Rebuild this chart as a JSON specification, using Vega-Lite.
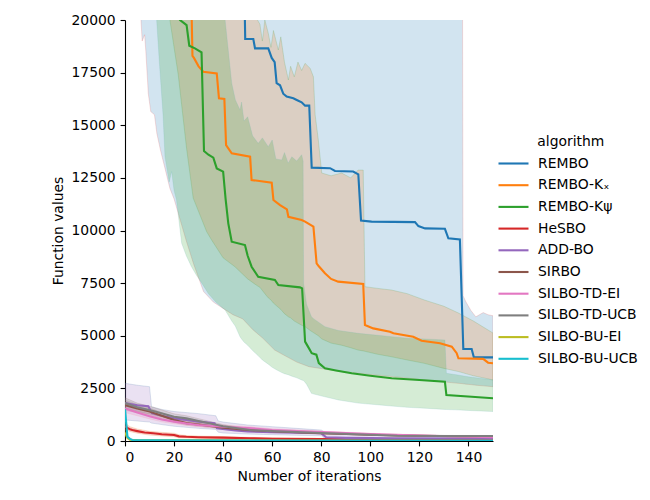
{
  "$schema": "https://vega.github.io/schema/vega-lite/v6.json",
  "width": 368,
  "height": 421,
  "autosize": "none",
  "padding": {"left": 125, "top": 20, "right": 157, "bottom": 59},
  "background": "white",
  "config": {
    "view": {"stroke": null},
    "font": "DejaVu Sans",
    "axis": {
      "grid": false,
      "zindex": 1,
      "labelFont": "DejaVu Sans",
      "labelFontSize": 13.9,
      "labelColor": "black",
      "titleFont": "DejaVu Sans",
      "titleFontSize": 13.9,
      "titleFontWeight": "normal",
      "titleColor": "black",
      "domainColor": "black",
      "domainWidth": 1.1,
      "tickColor": "black",
      "tickWidth": 1.1,
      "tickSize": 4.9,
      "labelPadding": 4.9
    },
    "legend": {
      "labelFont": "DejaVu Sans",
      "labelFontSize": 13.9,
      "labelColor": "black",
      "titleFont": "DejaVu Sans",
      "titleFontSize": 13.9,
      "titleFontWeight": "normal",
      "titleColor": "black"
    }
  },
  "datasets": {
    "lines": [
      {"algorithm": "REMBO", "iteration": 0, "value": 60000},
      {"algorithm": "REMBO", "iteration": 48, "value": 26000},
      {"algorithm": "REMBO", "iteration": 49, "value": 19100},
      {"algorithm": "REMBO", "iteration": 52.3, "value": 19100},
      {"algorithm": "REMBO", "iteration": 53, "value": 18650},
      {"algorithm": "REMBO", "iteration": 58.4, "value": 18650},
      {"algorithm": "REMBO", "iteration": 59.8, "value": 18200},
      {"algorithm": "REMBO", "iteration": 61, "value": 18000},
      {"algorithm": "REMBO", "iteration": 61.8, "value": 17000},
      {"algorithm": "REMBO", "iteration": 63.2, "value": 16900},
      {"algorithm": "REMBO", "iteration": 64.5, "value": 16500},
      {"algorithm": "REMBO", "iteration": 65.9, "value": 16360},
      {"algorithm": "REMBO", "iteration": 68.6, "value": 16280},
      {"algorithm": "REMBO", "iteration": 70, "value": 16200},
      {"algorithm": "REMBO", "iteration": 72, "value": 16090},
      {"algorithm": "REMBO", "iteration": 73.4, "value": 15930},
      {"algorithm": "REMBO", "iteration": 75.1, "value": 15930},
      {"algorithm": "REMBO", "iteration": 76.1, "value": 12985},
      {"algorithm": "REMBO", "iteration": 83.6, "value": 12960},
      {"algorithm": "REMBO", "iteration": 85.6, "value": 12830},
      {"algorithm": "REMBO", "iteration": 93, "value": 12800},
      {"algorithm": "REMBO", "iteration": 95.1, "value": 12670},
      {"algorithm": "REMBO", "iteration": 96.2, "value": 10470},
      {"algorithm": "REMBO", "iteration": 100.5, "value": 10420},
      {"algorithm": "REMBO", "iteration": 118.2, "value": 10400},
      {"algorithm": "REMBO", "iteration": 119.6, "value": 10210},
      {"algorithm": "REMBO", "iteration": 122.3, "value": 10100},
      {"algorithm": "REMBO", "iteration": 130.4, "value": 10080},
      {"algorithm": "REMBO", "iteration": 131.8, "value": 9630},
      {"algorithm": "REMBO", "iteration": 136.5, "value": 9580},
      {"algorithm": "REMBO", "iteration": 137.9, "value": 4370},
      {"algorithm": "REMBO", "iteration": 141.3, "value": 4370},
      {"algorithm": "REMBO", "iteration": 142.2, "value": 3975},
      {"algorithm": "REMBO", "iteration": 150, "value": 3975},

      {"algorithm": "REMBO-Kₓ", "iteration": 0, "value": 60000},
      {"algorithm": "REMBO-Kₓ", "iteration": 26.5, "value": 24000},
      {"algorithm": "REMBO-Kₓ", "iteration": 27.5, "value": 18300},
      {"algorithm": "REMBO-Kₓ", "iteration": 28.1, "value": 18200},
      {"algorithm": "REMBO-Kₓ", "iteration": 30, "value": 17800},
      {"algorithm": "REMBO-Kₓ", "iteration": 31.9, "value": 17540},
      {"algorithm": "REMBO-Kₓ", "iteration": 37.4, "value": 17460},
      {"algorithm": "REMBO-Kₓ", "iteration": 38.3, "value": 16280},
      {"algorithm": "REMBO-Kₓ", "iteration": 40.5, "value": 16250},
      {"algorithm": "REMBO-Kₓ", "iteration": 41.2, "value": 14060},
      {"algorithm": "REMBO-Kₓ", "iteration": 43.5, "value": 13670},
      {"algorithm": "REMBO-Kₓ", "iteration": 51, "value": 13510},
      {"algorithm": "REMBO-Kₓ", "iteration": 51.6, "value": 12400},
      {"algorithm": "REMBO-Kₓ", "iteration": 59.8, "value": 12270},
      {"algorithm": "REMBO-Kₓ", "iteration": 60.5, "value": 11450},
      {"algorithm": "REMBO-Kₓ", "iteration": 63.2, "value": 11210},
      {"algorithm": "REMBO-Kₓ", "iteration": 66, "value": 11000},
      {"algorithm": "REMBO-Kₓ", "iteration": 66.6, "value": 10650},
      {"algorithm": "REMBO-Kₓ", "iteration": 72, "value": 10500},
      {"algorithm": "REMBO-Kₓ", "iteration": 73.4, "value": 10420},
      {"algorithm": "REMBO-Kₓ", "iteration": 76.8, "value": 10180},
      {"algorithm": "REMBO-Kₓ", "iteration": 78.1, "value": 8440},
      {"algorithm": "REMBO-Kₓ", "iteration": 79, "value": 8300},
      {"algorithm": "REMBO-Kₓ", "iteration": 81.5, "value": 7970},
      {"algorithm": "REMBO-Kₓ", "iteration": 84, "value": 7700},
      {"algorithm": "REMBO-Kₓ", "iteration": 86.9, "value": 7570},
      {"algorithm": "REMBO-Kₓ", "iteration": 97.1, "value": 7460},
      {"algorithm": "REMBO-Kₓ", "iteration": 97.8, "value": 5510},
      {"algorithm": "REMBO-Kₓ", "iteration": 101.2, "value": 5350},
      {"algorithm": "REMBO-Kₓ", "iteration": 108, "value": 5190},
      {"algorithm": "REMBO-Kₓ", "iteration": 109.4, "value": 5115},
      {"algorithm": "REMBO-Kₓ", "iteration": 117.5, "value": 4955},
      {"algorithm": "REMBO-Kₓ", "iteration": 120.9, "value": 4765},
      {"algorithm": "REMBO-Kₓ", "iteration": 128.4, "value": 4640},
      {"algorithm": "REMBO-Kₓ", "iteration": 133.2, "value": 4480},
      {"algorithm": "REMBO-Kₓ", "iteration": 135.2, "value": 4170},
      {"algorithm": "REMBO-Kₓ", "iteration": 135.9, "value": 3930},
      {"algorithm": "REMBO-Kₓ", "iteration": 146, "value": 3900},
      {"algorithm": "REMBO-Kₓ", "iteration": 148, "value": 3720},
      {"algorithm": "REMBO-Kₓ", "iteration": 150, "value": 3690},

      {"algorithm": "REMBO-Kψ", "iteration": 0, "value": 60000},
      {"algorithm": "REMBO-Kψ", "iteration": 21.5, "value": 25000},
      {"algorithm": "REMBO-Kψ", "iteration": 22.4, "value": 20000},
      {"algorithm": "REMBO-Kψ", "iteration": 25.1, "value": 19760},
      {"algorithm": "REMBO-Kψ", "iteration": 26.2, "value": 18780},
      {"algorithm": "REMBO-Kψ", "iteration": 28.5, "value": 18650},
      {"algorithm": "REMBO-Kψ", "iteration": 31.2, "value": 18460},
      {"algorithm": "REMBO-Kψ", "iteration": 32.2, "value": 13780},
      {"algorithm": "REMBO-Kψ", "iteration": 34, "value": 13600},
      {"algorithm": "REMBO-Kψ", "iteration": 36, "value": 13460},
      {"algorithm": "REMBO-Kψ", "iteration": 37.4, "value": 12950},
      {"algorithm": "REMBO-Kψ", "iteration": 40, "value": 12800},
      {"algorithm": "REMBO-Kψ", "iteration": 41, "value": 11500},
      {"algorithm": "REMBO-Kψ", "iteration": 42.1, "value": 10340},
      {"algorithm": "REMBO-Kψ", "iteration": 43.5, "value": 9470},
      {"algorithm": "REMBO-Kψ", "iteration": 48.9, "value": 9310},
      {"algorithm": "REMBO-Kψ", "iteration": 50, "value": 8800},
      {"algorithm": "REMBO-Kψ", "iteration": 51.6, "value": 8280},
      {"algorithm": "REMBO-Kψ", "iteration": 54.3, "value": 7800},
      {"algorithm": "REMBO-Kψ", "iteration": 61.1, "value": 7650},
      {"algorithm": "REMBO-Kψ", "iteration": 62.5, "value": 7410},
      {"algorithm": "REMBO-Kψ", "iteration": 71.3, "value": 7300},
      {"algorithm": "REMBO-Kψ", "iteration": 72.2, "value": 7250},
      {"algorithm": "REMBO-Kψ", "iteration": 73.4, "value": 4720},
      {"algorithm": "REMBO-Kψ", "iteration": 75, "value": 4400},
      {"algorithm": "REMBO-Kψ", "iteration": 76.1, "value": 4170},
      {"algorithm": "REMBO-Kψ", "iteration": 78, "value": 4100},
      {"algorithm": "REMBO-Kψ", "iteration": 79, "value": 3700},
      {"algorithm": "REMBO-Kψ", "iteration": 81.5, "value": 3450},
      {"algorithm": "REMBO-Kψ", "iteration": 86, "value": 3350},
      {"algorithm": "REMBO-Kψ", "iteration": 92.4, "value": 3215},
      {"algorithm": "REMBO-Kψ", "iteration": 100, "value": 3100},
      {"algorithm": "REMBO-Kψ", "iteration": 108.7, "value": 2980},
      {"algorithm": "REMBO-Kψ", "iteration": 120, "value": 2900},
      {"algorithm": "REMBO-Kψ", "iteration": 130.4, "value": 2820},
      {"algorithm": "REMBO-Kψ", "iteration": 131, "value": 2185},
      {"algorithm": "REMBO-Kψ", "iteration": 141.3, "value": 2100},
      {"algorithm": "REMBO-Kψ", "iteration": 150, "value": 2030},

      {"algorithm": "HeSBO", "iteration": 0, "value": 700},
      {"algorithm": "HeSBO", "iteration": 1, "value": 620},
      {"algorithm": "HeSBO", "iteration": 2, "value": 560},
      {"algorithm": "HeSBO", "iteration": 3, "value": 520},
      {"algorithm": "HeSBO", "iteration": 5, "value": 470},
      {"algorithm": "HeSBO", "iteration": 8, "value": 400},
      {"algorithm": "HeSBO", "iteration": 11.5, "value": 365},
      {"algorithm": "HeSBO", "iteration": 15, "value": 320},
      {"algorithm": "HeSBO", "iteration": 20, "value": 285},
      {"algorithm": "HeSBO", "iteration": 22, "value": 220},
      {"algorithm": "HeSBO", "iteration": 25, "value": 200},
      {"algorithm": "HeSBO", "iteration": 30, "value": 180},
      {"algorithm": "HeSBO", "iteration": 40, "value": 160},
      {"algorithm": "HeSBO", "iteration": 51, "value": 130},
      {"algorithm": "HeSBO", "iteration": 60, "value": 110},
      {"algorithm": "HeSBO", "iteration": 80, "value": 90},
      {"algorithm": "HeSBO", "iteration": 100, "value": 75},
      {"algorithm": "HeSBO", "iteration": 120, "value": 65},
      {"algorithm": "HeSBO", "iteration": 150, "value": 50},

      {"algorithm": "ADD-BO", "iteration": 0, "value": 1800},
      {"algorithm": "ADD-BO", "iteration": 5, "value": 1700},
      {"algorithm": "ADD-BO", "iteration": 9.5, "value": 1650},
      {"algorithm": "ADD-BO", "iteration": 10.5, "value": 1430},
      {"algorithm": "ADD-BO", "iteration": 11, "value": 1320},
      {"algorithm": "ADD-BO", "iteration": 15, "value": 1200},
      {"algorithm": "ADD-BO", "iteration": 20, "value": 1075},
      {"algorithm": "ADD-BO", "iteration": 25, "value": 1000},
      {"algorithm": "ADD-BO", "iteration": 30, "value": 920},
      {"algorithm": "ADD-BO", "iteration": 36.5, "value": 840},
      {"algorithm": "ADD-BO", "iteration": 37.5, "value": 600},
      {"algorithm": "ADD-BO", "iteration": 45, "value": 500},
      {"algorithm": "ADD-BO", "iteration": 50, "value": 450},
      {"algorithm": "ADD-BO", "iteration": 60, "value": 420},
      {"algorithm": "ADD-BO", "iteration": 70, "value": 390},
      {"algorithm": "ADD-BO", "iteration": 80, "value": 365},
      {"algorithm": "ADD-BO", "iteration": 82, "value": 175},
      {"algorithm": "ADD-BO", "iteration": 90, "value": 150},
      {"algorithm": "ADD-BO", "iteration": 110, "value": 125},
      {"algorithm": "ADD-BO", "iteration": 150, "value": 115},

      {"algorithm": "SIRBO", "iteration": 0, "value": 1700},
      {"algorithm": "SIRBO", "iteration": 5, "value": 1550},
      {"algorithm": "SIRBO", "iteration": 10, "value": 1400},
      {"algorithm": "SIRBO", "iteration": 15, "value": 1200},
      {"algorithm": "SIRBO", "iteration": 20, "value": 1000},
      {"algorithm": "SIRBO", "iteration": 25, "value": 850},
      {"algorithm": "SIRBO", "iteration": 30, "value": 780},
      {"algorithm": "SIRBO", "iteration": 40, "value": 630},
      {"algorithm": "SIRBO", "iteration": 50, "value": 530},
      {"algorithm": "SIRBO", "iteration": 60, "value": 460},
      {"algorithm": "SIRBO", "iteration": 80, "value": 370},
      {"algorithm": "SIRBO", "iteration": 100, "value": 300},
      {"algorithm": "SIRBO", "iteration": 120, "value": 250},
      {"algorithm": "SIRBO", "iteration": 150, "value": 200},

      {"algorithm": "SILBO-TD-EI", "iteration": 0, "value": 1550},
      {"algorithm": "SILBO-TD-EI", "iteration": 5, "value": 1350},
      {"algorithm": "SILBO-TD-EI", "iteration": 10, "value": 1180},
      {"algorithm": "SILBO-TD-EI", "iteration": 15, "value": 1020},
      {"algorithm": "SILBO-TD-EI", "iteration": 20, "value": 920},
      {"algorithm": "SILBO-TD-EI", "iteration": 25, "value": 830},
      {"algorithm": "SILBO-TD-EI", "iteration": 30, "value": 760},
      {"algorithm": "SILBO-TD-EI", "iteration": 40, "value": 680},
      {"algorithm": "SILBO-TD-EI", "iteration": 50, "value": 620},
      {"algorithm": "SILBO-TD-EI", "iteration": 60, "value": 520},
      {"algorithm": "SILBO-TD-EI", "iteration": 80, "value": 420},
      {"algorithm": "SILBO-TD-EI", "iteration": 100, "value": 330},
      {"algorithm": "SILBO-TD-EI", "iteration": 120, "value": 260},
      {"algorithm": "SILBO-TD-EI", "iteration": 150, "value": 175},

      {"algorithm": "SILBO-TD-UCB", "iteration": 0, "value": 1800},
      {"algorithm": "SILBO-TD-UCB", "iteration": 5, "value": 1600},
      {"algorithm": "SILBO-TD-UCB", "iteration": 11.5, "value": 1425},
      {"algorithm": "SILBO-TD-UCB", "iteration": 20, "value": 1155},
      {"algorithm": "SILBO-TD-UCB", "iteration": 25, "value": 1075},
      {"algorithm": "SILBO-TD-UCB", "iteration": 30, "value": 950},
      {"algorithm": "SILBO-TD-UCB", "iteration": 40, "value": 700},
      {"algorithm": "SILBO-TD-UCB", "iteration": 51, "value": 520},
      {"algorithm": "SILBO-TD-UCB", "iteration": 60, "value": 470},
      {"algorithm": "SILBO-TD-UCB", "iteration": 80, "value": 380},
      {"algorithm": "SILBO-TD-UCB", "iteration": 100, "value": 300},
      {"algorithm": "SILBO-TD-UCB", "iteration": 111, "value": 250},
      {"algorithm": "SILBO-TD-UCB", "iteration": 130, "value": 240},
      {"algorithm": "SILBO-TD-UCB", "iteration": 150, "value": 235},

      {"algorithm": "SILBO-BU-EI", "iteration": 0, "value": 400},
      {"algorithm": "SILBO-BU-EI", "iteration": 1, "value": 150},
      {"algorithm": "SILBO-BU-EI", "iteration": 2, "value": 60},
      {"algorithm": "SILBO-BU-EI", "iteration": 5, "value": 40},
      {"algorithm": "SILBO-BU-EI", "iteration": 50, "value": 25},
      {"algorithm": "SILBO-BU-EI", "iteration": 150, "value": 15},

      {"algorithm": "SILBO-BU-UCB", "iteration": 0, "value": 1500},
      {"algorithm": "SILBO-BU-UCB", "iteration": 1, "value": 200},
      {"algorithm": "SILBO-BU-UCB", "iteration": 2, "value": 100},
      {"algorithm": "SILBO-BU-UCB", "iteration": 3, "value": 50},
      {"algorithm": "SILBO-BU-UCB", "iteration": 10, "value": 35},
      {"algorithm": "SILBO-BU-UCB", "iteration": 50, "value": 25},
      {"algorithm": "SILBO-BU-UCB", "iteration": 150, "value": 15}
    ],
    "bands": [
      {"algorithm": "REMBO", "iteration": 0, "lower": 60000, "upper": 60000},
      {"algorithm": "REMBO", "iteration": 5, "lower": 26000, "upper": 60000},
      {"algorithm": "REMBO", "iteration": 6.5, "lower": 20000, "upper": 60000},
      {"algorithm": "REMBO", "iteration": 7, "lower": 19000, "upper": 60000},
      {"algorithm": "REMBO", "iteration": 8, "lower": 19300, "upper": 60000},
      {"algorithm": "REMBO", "iteration": 8.5, "lower": 18500, "upper": 60000},
      {"algorithm": "REMBO", "iteration": 9.5, "lower": 16500, "upper": 60000},
      {"algorithm": "REMBO", "iteration": 10.5, "lower": 15650, "upper": 60000},
      {"algorithm": "REMBO", "iteration": 12, "lower": 15500, "upper": 60000},
      {"algorithm": "REMBO", "iteration": 13, "lower": 14600, "upper": 60000},
      {"algorithm": "REMBO", "iteration": 14.5, "lower": 13800, "upper": 60000},
      {"algorithm": "REMBO", "iteration": 16.3, "lower": 12950, "upper": 60000},
      {"algorithm": "REMBO", "iteration": 18.3, "lower": 12000, "upper": 60000},
      {"algorithm": "REMBO", "iteration": 20, "lower": 11500, "upper": 60000},
      {"algorithm": "REMBO", "iteration": 22, "lower": 10700, "upper": 60000},
      {"algorithm": "REMBO", "iteration": 25, "lower": 9500, "upper": 60000},
      {"algorithm": "REMBO", "iteration": 28, "lower": 8400, "upper": 60000},
      {"algorithm": "REMBO", "iteration": 32, "lower": 7100, "upper": 60000},
      {"algorithm": "REMBO", "iteration": 36, "lower": 6600, "upper": 60000},
      {"algorithm": "REMBO", "iteration": 40, "lower": 6300, "upper": 60000},
      {"algorithm": "REMBO", "iteration": 44, "lower": 6000, "upper": 60000},
      {"algorithm": "REMBO", "iteration": 48, "lower": 5800, "upper": 60000},
      {"algorithm": "REMBO", "iteration": 52, "lower": 5300, "upper": 60000},
      {"algorithm": "REMBO", "iteration": 56, "lower": 4900, "upper": 60000},
      {"algorithm": "REMBO", "iteration": 61, "lower": 4320, "upper": 60000},
      {"algorithm": "REMBO", "iteration": 66, "lower": 4000, "upper": 60000},
      {"algorithm": "REMBO", "iteration": 70, "lower": 3750, "upper": 60000},
      {"algorithm": "REMBO", "iteration": 75, "lower": 3530, "upper": 60000},
      {"algorithm": "REMBO", "iteration": 85, "lower": 3350, "upper": 60000},
      {"algorithm": "REMBO", "iteration": 95, "lower": 3215, "upper": 60000},
      {"algorithm": "REMBO", "iteration": 110, "lower": 3050, "upper": 60000},
      {"algorithm": "REMBO", "iteration": 122, "lower": 2900, "upper": 60000},
      {"algorithm": "REMBO", "iteration": 135, "lower": 2750, "upper": 60000},
      {"algorithm": "REMBO", "iteration": 137, "lower": 2730, "upper": 60000},
      {"algorithm": "REMBO", "iteration": 137.8, "lower": 2720, "upper": 6900},
      {"algorithm": "REMBO", "iteration": 139, "lower": 2700, "upper": 6600},
      {"algorithm": "REMBO", "iteration": 141, "lower": 2680, "upper": 6200},
      {"algorithm": "REMBO", "iteration": 143, "lower": 2650, "upper": 5900},
      {"algorithm": "REMBO", "iteration": 146, "lower": 2620, "upper": 6100},
      {"algorithm": "REMBO", "iteration": 148, "lower": 2600, "upper": 6000},
      {"algorithm": "REMBO", "iteration": 150, "lower": 2580, "upper": 5950},

      {"algorithm": "REMBO-Kₓ", "iteration": 0, "lower": 60000, "upper": 60000},
      {"algorithm": "REMBO-Kₓ", "iteration": 17.5, "lower": 21000, "upper": 60000},
      {"algorithm": "REMBO-Kₓ", "iteration": 18.3, "lower": 20000, "upper": 60000},
      {"algorithm": "REMBO-Kₓ", "iteration": 21.7, "lower": 17400, "upper": 60000},
      {"algorithm": "REMBO-Kₓ", "iteration": 25.1, "lower": 13900, "upper": 60000},
      {"algorithm": "REMBO-Kₓ", "iteration": 27.8, "lower": 11540, "upper": 60000},
      {"algorithm": "REMBO-Kₓ", "iteration": 33.3, "lower": 9940, "upper": 60000},
      {"algorithm": "REMBO-Kₓ", "iteration": 35.3, "lower": 9550, "upper": 60000},
      {"algorithm": "REMBO-Kₓ", "iteration": 40, "lower": 8700, "upper": 60000},
      {"algorithm": "REMBO-Kₓ", "iteration": 44.8, "lower": 8280, "upper": 60000},
      {"algorithm": "REMBO-Kₓ", "iteration": 50, "lower": 7700, "upper": 60000},
      {"algorithm": "REMBO-Kₓ", "iteration": 53, "lower": 7450, "upper": 40000},
      {"algorithm": "REMBO-Kₓ", "iteration": 54, "lower": 7370, "upper": 20000},
      {"algorithm": "REMBO-Kₓ", "iteration": 55, "lower": 7300, "upper": 19800},
      {"algorithm": "REMBO-Kₓ", "iteration": 56, "lower": 7150, "upper": 19000},
      {"algorithm": "REMBO-Kₓ", "iteration": 57, "lower": 7000, "upper": 20000},
      {"algorithm": "REMBO-Kₓ", "iteration": 58.4, "lower": 6800, "upper": 19370},
      {"algorithm": "REMBO-Kₓ", "iteration": 59.5, "lower": 6700, "upper": 18700},
      {"algorithm": "REMBO-Kₓ", "iteration": 60.5, "lower": 6550, "upper": 19500},
      {"algorithm": "REMBO-Kₓ", "iteration": 62.5, "lower": 6350, "upper": 18575},
      {"algorithm": "REMBO-Kₓ", "iteration": 63.5, "lower": 6250, "upper": 19200},
      {"algorithm": "REMBO-Kₓ", "iteration": 65, "lower": 6050, "upper": 18000},
      {"algorithm": "REMBO-Kₓ", "iteration": 66.6, "lower": 5900, "upper": 17150},
      {"algorithm": "REMBO-Kₓ", "iteration": 67.5, "lower": 5850, "upper": 17800},
      {"algorithm": "REMBO-Kₓ", "iteration": 69, "lower": 5700, "upper": 17300},
      {"algorithm": "REMBO-Kₓ", "iteration": 70.5, "lower": 5600, "upper": 18000},
      {"algorithm": "REMBO-Kₓ", "iteration": 72, "lower": 5500, "upper": 17600},
      {"algorithm": "REMBO-Kₓ", "iteration": 73.4, "lower": 5430, "upper": 17940},
      {"algorithm": "REMBO-Kₓ", "iteration": 75.5, "lower": 5250, "upper": 17700},
      {"algorithm": "REMBO-Kₓ", "iteration": 76.8, "lower": 5150, "upper": 17300},
      {"algorithm": "REMBO-Kₓ", "iteration": 77.5, "lower": 5100, "upper": 15500},
      {"algorithm": "REMBO-Kₓ", "iteration": 78.8, "lower": 5000, "upper": 14300},
      {"algorithm": "REMBO-Kₓ", "iteration": 80.2, "lower": 4850, "upper": 12730},
      {"algorithm": "REMBO-Kₓ", "iteration": 84, "lower": 4650, "upper": 12600},
      {"algorithm": "REMBO-Kₓ", "iteration": 88.3, "lower": 4550, "upper": 12730},
      {"algorithm": "REMBO-Kₓ", "iteration": 92, "lower": 4430, "upper": 12500},
      {"algorithm": "REMBO-Kₓ", "iteration": 95, "lower": 4320, "upper": 12870},
      {"algorithm": "REMBO-Kₓ", "iteration": 97.1, "lower": 4280, "upper": 12870},
      {"algorithm": "REMBO-Kₓ", "iteration": 97.8, "lower": 4260, "upper": 7330},
      {"algorithm": "REMBO-Kₓ", "iteration": 103, "lower": 4120, "upper": 7250},
      {"algorithm": "REMBO-Kₓ", "iteration": 108.7, "lower": 4000, "upper": 7170},
      {"algorithm": "REMBO-Kₓ", "iteration": 115, "lower": 3850, "upper": 7000},
      {"algorithm": "REMBO-Kₓ", "iteration": 122, "lower": 3690, "upper": 6700},
      {"algorithm": "REMBO-Kₓ", "iteration": 130, "lower": 3450, "upper": 6400},
      {"algorithm": "REMBO-Kₓ", "iteration": 135.9, "lower": 3300, "upper": 6080},
      {"algorithm": "REMBO-Kₓ", "iteration": 142, "lower": 3100, "upper": 5700},
      {"algorithm": "REMBO-Kₓ", "iteration": 150, "lower": 2900, "upper": 5130},

      {"algorithm": "REMBO-Kψ", "iteration": 0, "lower": 60000, "upper": 60000},
      {"algorithm": "REMBO-Kψ", "iteration": 12, "lower": 24000, "upper": 60000},
      {"algorithm": "REMBO-Kψ", "iteration": 12.9, "lower": 20000, "upper": 60000},
      {"algorithm": "REMBO-Kψ", "iteration": 14, "lower": 18000, "upper": 60000},
      {"algorithm": "REMBO-Kψ", "iteration": 15.5, "lower": 15500, "upper": 60000},
      {"algorithm": "REMBO-Kψ", "iteration": 16.3, "lower": 13500, "upper": 60000},
      {"algorithm": "REMBO-Kψ", "iteration": 18, "lower": 12300, "upper": 60000},
      {"algorithm": "REMBO-Kψ", "iteration": 19, "lower": 12800, "upper": 60000},
      {"algorithm": "REMBO-Kψ", "iteration": 20, "lower": 11900, "upper": 60000},
      {"algorithm": "REMBO-Kψ", "iteration": 21, "lower": 11450, "upper": 60000},
      {"algorithm": "REMBO-Kψ", "iteration": 23.1, "lower": 9390, "upper": 60000},
      {"algorithm": "REMBO-Kψ", "iteration": 25, "lower": 8800, "upper": 60000},
      {"algorithm": "REMBO-Kψ", "iteration": 27, "lower": 8300, "upper": 60000},
      {"algorithm": "REMBO-Kψ", "iteration": 29, "lower": 7900, "upper": 60000},
      {"algorithm": "REMBO-Kψ", "iteration": 31.3, "lower": 7500, "upper": 60000},
      {"algorithm": "REMBO-Kψ", "iteration": 34, "lower": 7000, "upper": 60000},
      {"algorithm": "REMBO-Kψ", "iteration": 37, "lower": 6600, "upper": 60000},
      {"algorithm": "REMBO-Kψ", "iteration": 40, "lower": 6300, "upper": 40000},
      {"algorithm": "REMBO-Kψ", "iteration": 40.8, "lower": 6220, "upper": 20000},
      {"algorithm": "REMBO-Kψ", "iteration": 43.5, "lower": 5700, "upper": 16990},
      {"algorithm": "REMBO-Kψ", "iteration": 45, "lower": 5450, "upper": 16200},
      {"algorithm": "REMBO-Kψ", "iteration": 46.9, "lower": 4950, "upper": 15720},
      {"algorithm": "REMBO-Kψ", "iteration": 47.5, "lower": 4850, "upper": 16100},
      {"algorithm": "REMBO-Kψ", "iteration": 48.5, "lower": 4700, "upper": 15200},
      {"algorithm": "REMBO-Kψ", "iteration": 50, "lower": 4550, "upper": 15400},
      {"algorithm": "REMBO-Kψ", "iteration": 52, "lower": 4300, "upper": 14500},
      {"algorithm": "REMBO-Kψ", "iteration": 54.3, "lower": 4050, "upper": 14140},
      {"algorithm": "REMBO-Kψ", "iteration": 56, "lower": 3850, "upper": 14400},
      {"algorithm": "REMBO-Kψ", "iteration": 58.4, "lower": 3650, "upper": 13980},
      {"algorithm": "REMBO-Kψ", "iteration": 60, "lower": 3500, "upper": 14300},
      {"algorithm": "REMBO-Kψ", "iteration": 61.5, "lower": 3400, "upper": 13400},
      {"algorithm": "REMBO-Kψ", "iteration": 63.9, "lower": 3250, "upper": 13350},
      {"algorithm": "REMBO-Kψ", "iteration": 65, "lower": 3200, "upper": 13700},
      {"algorithm": "REMBO-Kψ", "iteration": 66.5, "lower": 3150, "upper": 13200},
      {"algorithm": "REMBO-Kψ", "iteration": 68, "lower": 3080, "upper": 13500},
      {"algorithm": "REMBO-Kψ", "iteration": 70, "lower": 3000, "upper": 13300},
      {"algorithm": "REMBO-Kψ", "iteration": 72, "lower": 2900, "upper": 13600},
      {"algorithm": "REMBO-Kψ", "iteration": 72.6, "lower": 2880, "upper": 13300},
      {"algorithm": "REMBO-Kψ", "iteration": 72.8, "lower": 2870, "upper": 7500},
      {"algorithm": "REMBO-Kψ", "iteration": 74, "lower": 2700, "upper": 6500},
      {"algorithm": "REMBO-Kψ", "iteration": 76, "lower": 2265, "upper": 5900},
      {"algorithm": "REMBO-Kψ", "iteration": 77, "lower": 2230, "upper": 5800},
      {"algorithm": "REMBO-Kψ", "iteration": 81.5, "lower": 2100, "upper": 5430},
      {"algorithm": "REMBO-Kψ", "iteration": 87, "lower": 1950, "upper": 5250},
      {"algorithm": "REMBO-Kψ", "iteration": 95, "lower": 1800, "upper": 5115},
      {"algorithm": "REMBO-Kψ", "iteration": 105, "lower": 1700, "upper": 5000},
      {"algorithm": "REMBO-Kψ", "iteration": 108.7, "lower": 1660, "upper": 4955},
      {"algorithm": "REMBO-Kψ", "iteration": 115, "lower": 1600, "upper": 4880},
      {"algorithm": "REMBO-Kψ", "iteration": 122, "lower": 1560, "upper": 4850},
      {"algorithm": "REMBO-Kψ", "iteration": 130.4, "lower": 1500, "upper": 4800},
      {"algorithm": "REMBO-Kψ", "iteration": 131, "lower": 1495, "upper": 3215},
      {"algorithm": "REMBO-Kψ", "iteration": 135, "lower": 1480, "upper": 3150},
      {"algorithm": "REMBO-Kψ", "iteration": 140, "lower": 1450, "upper": 3050},
      {"algorithm": "REMBO-Kψ", "iteration": 150, "lower": 1400, "upper": 2900},

      {"algorithm": "HeSBO", "iteration": 0, "lower": 550, "upper": 850},
      {"algorithm": "HeSBO", "iteration": 2, "lower": 450, "upper": 680},
      {"algorithm": "HeSBO", "iteration": 5, "lower": 370, "upper": 570},
      {"algorithm": "HeSBO", "iteration": 10, "lower": 280, "upper": 460},
      {"algorithm": "HeSBO", "iteration": 15, "lower": 240, "upper": 410},
      {"algorithm": "HeSBO", "iteration": 20, "lower": 200, "upper": 370},
      {"algorithm": "HeSBO", "iteration": 22, "lower": 150, "upper": 300},
      {"algorithm": "HeSBO", "iteration": 25, "lower": 140, "upper": 260},
      {"algorithm": "HeSBO", "iteration": 30, "lower": 125, "upper": 235},
      {"algorithm": "HeSBO", "iteration": 40, "lower": 110, "upper": 210},
      {"algorithm": "HeSBO", "iteration": 50, "lower": 90, "upper": 175},
      {"algorithm": "HeSBO", "iteration": 60, "lower": 70, "upper": 150},
      {"algorithm": "HeSBO", "iteration": 80, "lower": 55, "upper": 125},
      {"algorithm": "HeSBO", "iteration": 100, "lower": 45, "upper": 105},
      {"algorithm": "HeSBO", "iteration": 120, "lower": 38, "upper": 95},
      {"algorithm": "HeSBO", "iteration": 150, "lower": 25, "upper": 80},

      {"algorithm": "ADD-BO", "iteration": 0, "lower": 1000, "upper": 2740},
      {"algorithm": "ADD-BO", "iteration": 5, "lower": 950, "upper": 2650},
      {"algorithm": "ADD-BO", "iteration": 10, "lower": 900, "upper": 2580},
      {"algorithm": "ADD-BO", "iteration": 10.8, "lower": 850, "upper": 1630},
      {"algorithm": "ADD-BO", "iteration": 15, "lower": 780, "upper": 1500},
      {"algorithm": "ADD-BO", "iteration": 20, "lower": 700, "upper": 1400},
      {"algorithm": "ADD-BO", "iteration": 30, "lower": 600, "upper": 1300},
      {"algorithm": "ADD-BO", "iteration": 37, "lower": 550, "upper": 1200},
      {"algorithm": "ADD-BO", "iteration": 38, "lower": 420, "upper": 950},
      {"algorithm": "ADD-BO", "iteration": 40, "lower": 380, "upper": 900},
      {"algorithm": "ADD-BO", "iteration": 50, "lower": 330, "upper": 760},
      {"algorithm": "ADD-BO", "iteration": 60, "lower": 300, "upper": 680},
      {"algorithm": "ADD-BO", "iteration": 70, "lower": 270, "upper": 600},
      {"algorithm": "ADD-BO", "iteration": 80, "lower": 250, "upper": 520},
      {"algorithm": "ADD-BO", "iteration": 82, "lower": 80, "upper": 380},
      {"algorithm": "ADD-BO", "iteration": 90, "lower": 70, "upper": 340},
      {"algorithm": "ADD-BO", "iteration": 100, "lower": 60, "upper": 310},
      {"algorithm": "ADD-BO", "iteration": 111, "lower": 55, "upper": 285},
      {"algorithm": "ADD-BO", "iteration": 130, "lower": 50, "upper": 265},
      {"algorithm": "ADD-BO", "iteration": 150, "lower": 45, "upper": 250},

      {"algorithm": "SIRBO", "iteration": 0, "lower": 1450, "upper": 1950},
      {"algorithm": "SIRBO", "iteration": 5, "lower": 1350, "upper": 1750},
      {"algorithm": "SIRBO", "iteration": 10, "lower": 1220, "upper": 1580},
      {"algorithm": "SIRBO", "iteration": 15, "lower": 1050, "upper": 1350},
      {"algorithm": "SIRBO", "iteration": 20, "lower": 880, "upper": 1120},
      {"algorithm": "SIRBO", "iteration": 25, "lower": 750, "upper": 950},
      {"algorithm": "SIRBO", "iteration": 30, "lower": 690, "upper": 870},
      {"algorithm": "SIRBO", "iteration": 40, "lower": 560, "upper": 700},
      {"algorithm": "SIRBO", "iteration": 50, "lower": 470, "upper": 590},
      {"algorithm": "SIRBO", "iteration": 60, "lower": 410, "upper": 510},
      {"algorithm": "SIRBO", "iteration": 80, "lower": 330, "upper": 410},
      {"algorithm": "SIRBO", "iteration": 100, "lower": 270, "upper": 330},
      {"algorithm": "SIRBO", "iteration": 120, "lower": 225, "upper": 275},
      {"algorithm": "SIRBO", "iteration": 150, "lower": 180, "upper": 220},

      {"algorithm": "SILBO-TD-EI", "iteration": 0, "lower": 1350, "upper": 1750},
      {"algorithm": "SILBO-TD-EI", "iteration": 5, "lower": 1200, "upper": 1500},
      {"algorithm": "SILBO-TD-EI", "iteration": 10, "lower": 1050, "upper": 1310},
      {"algorithm": "SILBO-TD-EI", "iteration": 15, "lower": 910, "upper": 1130},
      {"algorithm": "SILBO-TD-EI", "iteration": 20, "lower": 820, "upper": 1020},
      {"algorithm": "SILBO-TD-EI", "iteration": 25, "lower": 740, "upper": 920},
      {"algorithm": "SILBO-TD-EI", "iteration": 30, "lower": 680, "upper": 840},
      {"algorithm": "SILBO-TD-EI", "iteration": 40, "lower": 610, "upper": 750},
      {"algorithm": "SILBO-TD-EI", "iteration": 50, "lower": 550, "upper": 690},
      {"algorithm": "SILBO-TD-EI", "iteration": 60, "lower": 460, "upper": 580},
      {"algorithm": "SILBO-TD-EI", "iteration": 80, "lower": 370, "upper": 470},
      {"algorithm": "SILBO-TD-EI", "iteration": 100, "lower": 290, "upper": 370},
      {"algorithm": "SILBO-TD-EI", "iteration": 120, "lower": 225, "upper": 295},
      {"algorithm": "SILBO-TD-EI", "iteration": 150, "lower": 150, "upper": 200},

      {"algorithm": "SILBO-TD-UCB", "iteration": 0, "lower": 1550, "upper": 2050},
      {"algorithm": "SILBO-TD-UCB", "iteration": 5, "lower": 1400, "upper": 1800},
      {"algorithm": "SILBO-TD-UCB", "iteration": 11.5, "lower": 1250, "upper": 1600},
      {"algorithm": "SILBO-TD-UCB", "iteration": 20, "lower": 1020, "upper": 1290},
      {"algorithm": "SILBO-TD-UCB", "iteration": 25, "lower": 950, "upper": 1200},
      {"algorithm": "SILBO-TD-UCB", "iteration": 30, "lower": 840, "upper": 1060},
      {"algorithm": "SILBO-TD-UCB", "iteration": 40, "lower": 620, "upper": 780},
      {"algorithm": "SILBO-TD-UCB", "iteration": 51, "lower": 460, "upper": 580},
      {"algorithm": "SILBO-TD-UCB", "iteration": 60, "lower": 420, "upper": 520},
      {"algorithm": "SILBO-TD-UCB", "iteration": 80, "lower": 340, "upper": 420},
      {"algorithm": "SILBO-TD-UCB", "iteration": 100, "lower": 270, "upper": 330},
      {"algorithm": "SILBO-TD-UCB", "iteration": 111, "lower": 225, "upper": 275},
      {"algorithm": "SILBO-TD-UCB", "iteration": 130, "lower": 215, "upper": 265},
      {"algorithm": "SILBO-TD-UCB", "iteration": 150, "lower": 210, "upper": 260},

      {"algorithm": "SILBO-BU-EI", "iteration": 0, "lower": 250, "upper": 550},
      {"algorithm": "SILBO-BU-EI", "iteration": 1, "lower": 90, "upper": 210},
      {"algorithm": "SILBO-BU-EI", "iteration": 2, "lower": 35, "upper": 85},
      {"algorithm": "SILBO-BU-EI", "iteration": 5, "lower": 25, "upper": 55},
      {"algorithm": "SILBO-BU-EI", "iteration": 50, "lower": 15, "upper": 35},
      {"algorithm": "SILBO-BU-EI", "iteration": 150, "lower": 8, "upper": 22},

      {"algorithm": "SILBO-BU-UCB", "iteration": 0, "lower": 1200, "upper": 1800},
      {"algorithm": "SILBO-BU-UCB", "iteration": 1, "lower": 100, "upper": 300},
      {"algorithm": "SILBO-BU-UCB", "iteration": 2, "lower": 60, "upper": 140},
      {"algorithm": "SILBO-BU-UCB", "iteration": 3, "lower": 25, "upper": 75},
      {"algorithm": "SILBO-BU-UCB", "iteration": 10, "lower": 20, "upper": 50},
      {"algorithm": "SILBO-BU-UCB", "iteration": 50, "lower": 15, "upper": 35},
      {"algorithm": "SILBO-BU-UCB", "iteration": 150, "lower": 8, "upper": 22}
    ]
  },
  "encoding": {
    "x": {
      "field": "iteration",
      "type": "quantitative",
      "title": "Number of iterations",
      "scale": {"domain": [0, 150], "nice": false},
      "axis": {"values": [0, 20, 40, 60, 80, 100, 120, 140], "format": "d", "titlePadding": 5}
    },
    "color": {
      "field": "algorithm",
      "type": "nominal",
      "scale": {
        "domain": ["REMBO", "REMBO-Kₓ", "REMBO-Kψ", "HeSBO", "ADD-BO", "SIRBO", "SILBO-TD-EI", "SILBO-TD-UCB", "SILBO-BU-EI", "SILBO-BU-UCB"],
        "range": ["#1f77b4", "#ff7f0e", "#2ca02c", "#d62728", "#9467bd", "#8c564b", "#e377c2", "#7f7f7f", "#bcbd22", "#17becf"]
      },
      "legend": {
        "title": "\u200d\u00a0\u00a0\u00a0\u00a0\u00a0\u00a0\u00a0\u00a0algorithm",
        "orient": "none",
        "legendX": 377,
        "legendY": 115.4,
        "symbolType": "M-1.5,0L1.5,0",
        "symbolSize": 400,
        "symbolStrokeWidth": 2.1,
        "symbolOpacity": 1,
        "symbolFillColor": "transparent",
        "labelOffset": 13,
        "rowPadding": 2.7,
        "titlePadding": 2.7
      }
    }
  },
  "layer": [
    {
      "data": {"name": "bands"},
      "mark": {"type": "area", "clip": true, "fillOpacity": 0.2, "strokeOpacity": 0.2, "strokeWidth": 1},
      "encoding": {
        "y": {"field": "upper", "type": "quantitative"},
        "y2": {"field": "lower"},
        "stroke": {"field": "algorithm", "type": "nominal", "legend": null}
      }
    },
    {
      "data": {"name": "lines"},
      "mark": {"type": "line", "clip": true, "strokeWidth": 2.1},
      "encoding": {
        "y": {
          "field": "value",
          "type": "quantitative",
          "title": "Function values",
          "scale": {"domain": [0, 20000], "nice": false},
          "axis": {"values": [0, 2500, 5000, 7500, 10000, 12500, 15000, 17500, 20000], "format": "d", "titlePadding": 6}
        }
      }
    }
  ]
}
